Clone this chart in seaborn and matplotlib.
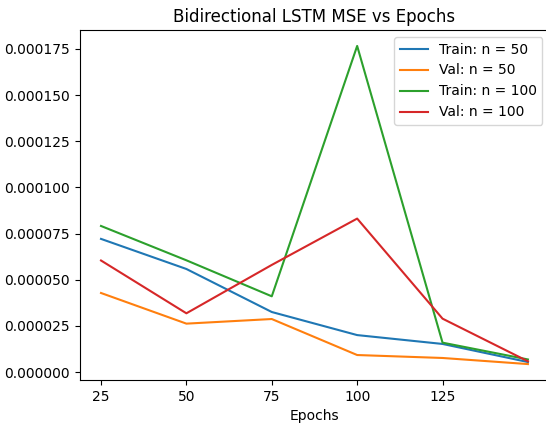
import matplotlib
matplotlib.use("Agg")
import matplotlib.pyplot as plt
import seaborn as sns
import pandas as pd
from matplotlib.ticker import FormatStrFormatter

epochs = [25, 50, 75, 100, 125, 150]
train_50 = [7.21e-5, 5.58e-5, 3.25e-5, 2.0e-5, 1.52e-5, 5.4e-6]
val_50 = [4.28e-5, 2.62e-5, 2.87e-5, 9.2e-6, 7.6e-6, 4.3e-6]
train_100 = [7.91e-5, 6.05e-5, 4.1e-5, 1.766e-4, 1.59e-5, 6.8e-6]
val_100 = [6.04e-5, 3.18e-5, 5.8e-5, 8.31e-5, 2.89e-5, 5.8e-6]
labels = ["Train: n = 50", "Val: n = 50", "Train: n = 100", "Val: n = 100"]
xticks = [25, 50, 75, 100, 125]

fig, ax = plt.subplots(figsize=(5.46, 4.23), dpi=100)
colors = ["#1f77b4", "#ff7f0e", "#2ca02c", "#d62728"]
for series, lab, c in zip([train_50, val_50, train_100, val_100], labels, colors):
    sns.lineplot(x=epochs, y=series, label=lab, color=c, ax=ax, linewidth=1.5)

ax.set_xticks(xticks)
ax.yaxis.set_major_formatter(FormatStrFormatter('%.6f'))
ax.set_xlabel("Epochs")
ax.set_title("Bidirectional LSTM MSE vs Epochs")
ax.legend(loc="upper right")
fig.subplots_adjust(left=0.1459, right=1.006, top=0.929, bottom=0.1017)
fig.savefig("out.png", dpi=100)
